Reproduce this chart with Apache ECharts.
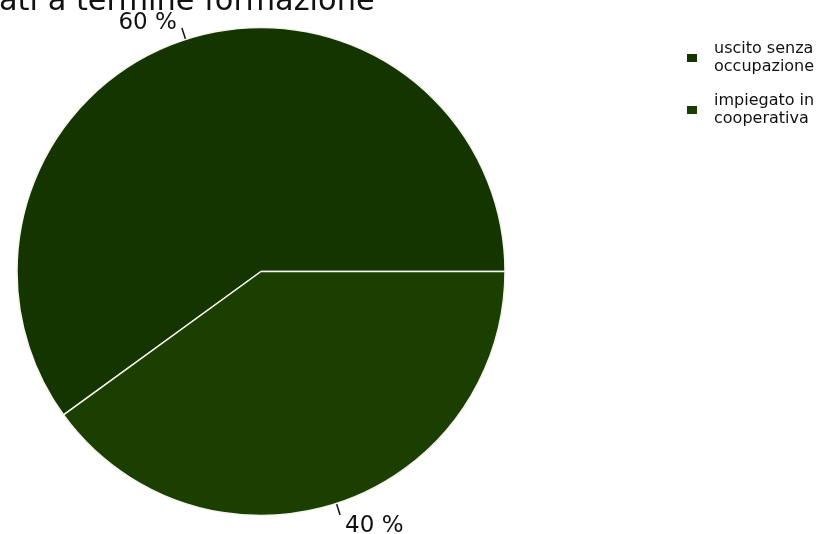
<!DOCTYPE html>
<html>
<head>
<meta charset="utf-8">
<script src="https://cdn.jsdelivr.net/npm/echarts@6/dist/echarts.min.js"></script>
<style>
  html, body { margin: 0; padding: 0; background: #fff; }
  #chart { width: 826px; height: 534px; }
</style>
</head>
<body>
<div id="chart"></div>
<script>
// Outcome categories and their shares (percent)
const categories = ['uscito senza\noccupazione', 'impiegato in\ncooperativa'];
const shares = [60, 40];
const sliceColors = ['#143500', '#1b3f00'];
const titleText = 'ati a termine formazione';

const FONT = 'DejaVu Sans, sans-serif';

// The percent text sits above the tick for the upper slice and below it for the lower one
const labelLineHeights = [9, 22];

const chart = echarts.init(document.getElementById('chart'), null, { renderer: 'canvas' });

chart.setOption({
  animation: false,
  backgroundColor: '#ffffff',
  title: {
    text: titleText,
    left: -1,
    top: -13,
    padding: 0,
    textStyle: { fontFamily: FONT, fontSize: 30.4, fontWeight: 'normal', color: '#111', lineHeight: 30 }
  },
  legend: {
    orient: 'vertical',
    left: 687,
    top: 40,
    padding: 0,
    itemWidth: 10,
    itemHeight: 8,
    itemGap: 16,
    icon: 'rect',
    selectedMode: false,
    itemStyle: { borderWidth: 0 },
    textStyle: {
      fontFamily: FONT,
      fontSize: 16,
      lineHeight: 18,
      color: '#111',
      padding: [0, 0, 0, 12]
    },
    data: categories
  },
  series: [{
    type: 'pie',
    center: [261, 271.5],
    radius: 244,
    startAngle: 0,
    clockwise: false,
    avoidLabelOverlap: false,
    itemStyle: { borderColor: '#f4f4ee', borderWidth: 1.5 },
    label: {
      show: true,
      position: 'outside',
      fontFamily: FONT,
      fontSize: 23,
      color: '#111',
      formatter: p => (p.dataIndex === 0 ? p.value + ' %\n' : '\n' + p.value + ' %')
    },
    labelLine: {
      show: true,
      length: 12,
      length2: 0,
      lineStyle: { color: '#111', width: 1.5 }
    },
    emphasis: { disabled: true },
    data: categories.map((name, i) => ({
      name: name,
      value: shares[i],
      itemStyle: { color: sliceColors[i] },
      label: { lineHeight: labelLineHeights[i] }
    }))
  }]
});
</script>
</body>
</html>
